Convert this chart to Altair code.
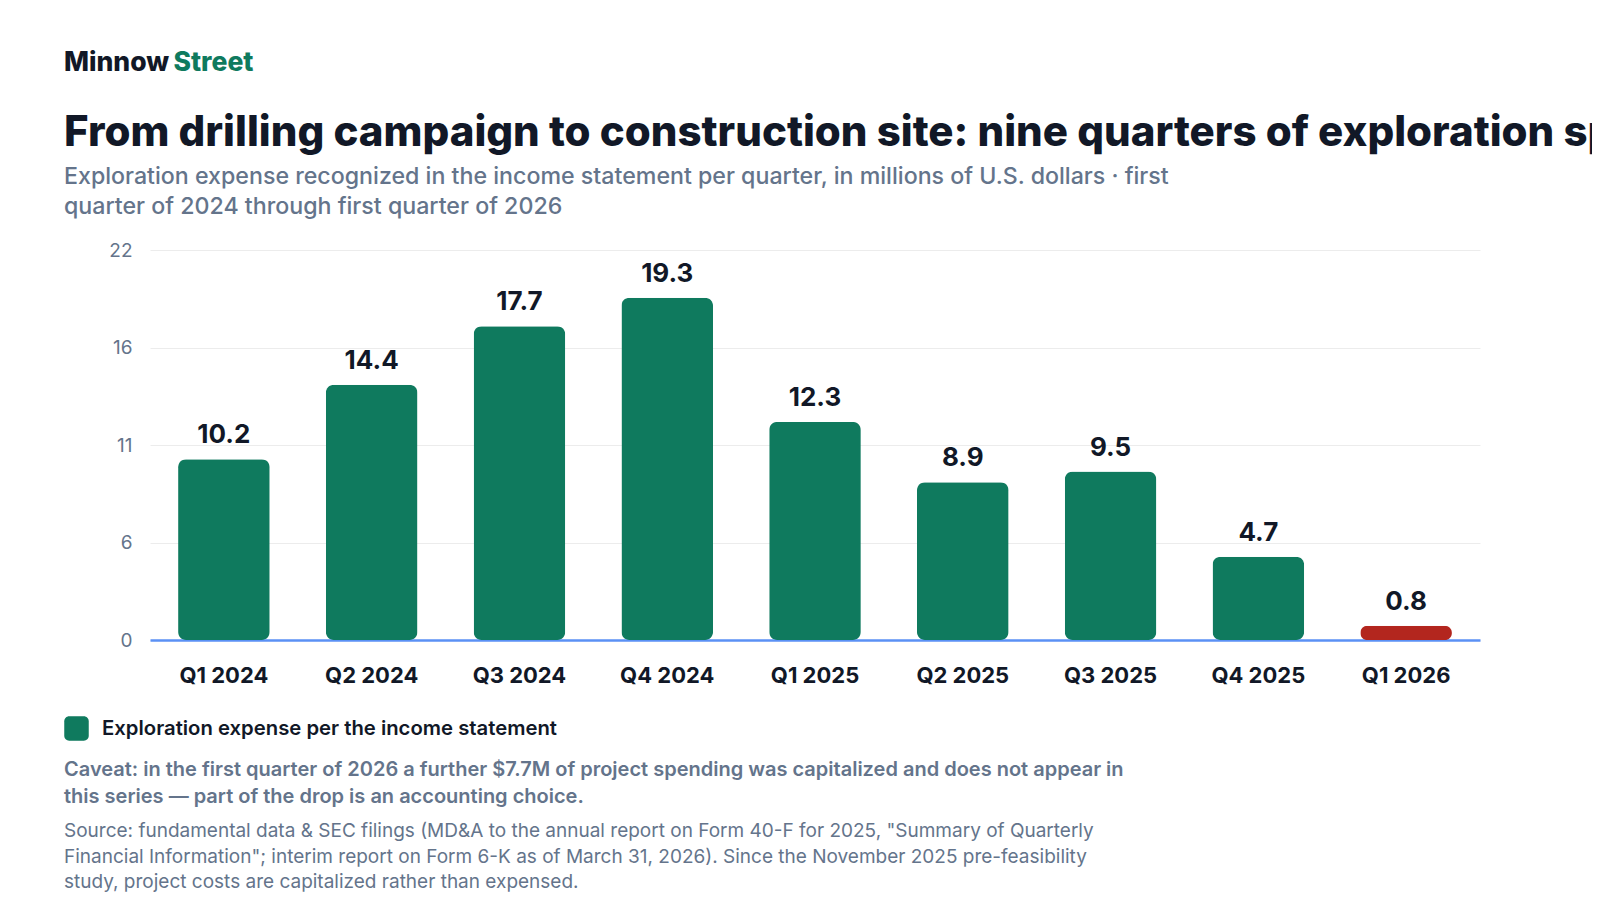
import altair as alt
import pandas as pd

quarters = ["Q1 2024", "Q2 2024", "Q3 2024", "Q4 2024", "Q1 2025",
            "Q2 2025", "Q3 2025", "Q4 2025", "Q1 2026"]
values = [10.2, 14.4, 17.7, 19.3, 12.3, 8.9, 9.5, 4.7, 0.8]
highlight = [False, False, False, False, False, False, False, False, True]
series_name = "Exploration expense per the income statement"
y_ticks = [0, 5.5, 11, 16.5, 22]
y_tick_labels = ["0", "6", "11", "16", "22"]

brand = ["Minnow", "Street"]
title_text = "From drilling campaign to construction site: nine quarters of exploration spending"
subtitle_lines = [
    "Exploration expense recognized in the income statement per quarter, in millions of U.S. dollars \u00b7 first",
    "quarter of 2024 through first quarter of 2026",
]
caveat_lines = [
    "Caveat: in the first quarter of 2026 a further $7.7M of project spending was capitalized and does not appear in",
    "this series \u2014 part of the drop is an accounting choice.",
]
source_lines = [
    'Source: fundamental data & SEC filings (MD&A to the annual report on Form 40-F for 2025, "Summary of Quarterly',
    'Financial Information"; interim report on Form 6-K as of March 31, 2026). Since the November 2025 pre-feasibility',
    "study, project costs are capitalized rather than expensed.",
]

GREEN = "#0f7a5e"
RED = "#b3261e"
DARK = "#111827"
GRAY = "#64748b"
BLUE = "#5b91f5"
FONT = "Inter"

df = pd.DataFrame({
    "quarter": quarters,
    "value": values,
    "highlight": highlight,
    "series": series_name,
    "label": [f"{v:.1f}" for v in values],
})

label_expr = " : ".join(
    f"datum.value == {v} ? '{l}'" for v, l in zip(y_ticks, y_tick_labels)
) + " : ''"

rounded_square = ("M-1,-0.6 A0.4,0.4 0 0 1 -0.6,-1 L0.6,-1 A0.4,0.4 0 0 1 1,-0.6 "
                  "L1,0.6 A0.4,0.4 0 0 1 0.6,1 L-0.6,1 A0.4,0.4 0 0 1 -1,0.6 Z")

x_enc = alt.X(
    "quarter:N", sort=quarters,
    scale=alt.Scale(paddingInner=0.38, paddingOuter=0.19),
    axis=alt.Axis(title=None, labelAngle=0, labelFont=FONT, labelFontSize=22,
                  labelFontWeight=700, labelColor=DARK, labelPadding=25,
                  ticks=False, domainColor=BLUE, domainWidth=2.6, grid=False),
)
y_enc = alt.Y(
    "value:Q",
    scale=alt.Scale(domain=[0, 22], nice=False),
    axis=alt.Axis(title=None, values=y_ticks, labelExpr=label_expr, domain=False,
                  ticks=False, gridColor="#ececec", gridWidth=1, labelFont=FONT,
                  labelFontSize=19, labelColor=GRAY, labelPadding=18),
)

base = alt.Chart(df)
bars = base.mark_bar(cornerRadius=8).encode(
    x=x_enc,
    y=y_enc,
    color=alt.condition(
        "datum.highlight",
        alt.value(RED),
        alt.Color("series:N", scale=alt.Scale(range=[GREEN]),
                  legend=alt.Legend(title=None, orient="none", legendX=-86, legendY=466,
                                    symbolType=rounded_square, symbolSize=600,
                                    symbolStrokeWidth=0, symbolOpacity=1,
                                    labelFont=FONT, labelFontSize=20.3, labelFontWeight=600,
                                    labelColor=DARK, labelOffset=13, padding=0,
                                    labelLimit=1000)),
    ),
)
labels = base.mark_text(dy=-16, baseline="alphabetic", fontSize=26, fontWeight=700,
                        color=DARK, font=FONT).encode(
    x=alt.X("quarter:N", sort=quarters),
    y=alt.Y("value:Q"),
    text="label:N",
)


def txt(lines, x, y, size, weight, color, lh=None):
    kw = dict(text=lines, align="left", baseline="alphabetic", font=FONT,
              fontSize=size, fontWeight=weight, color=color)
    if lh is not None:
        kw["lineHeight"] = lh
    return alt.Chart(pd.DataFrame({"a": [0]})).mark_text(**kw).encode(
        x=alt.value(x), y=alt.value(y))


texts = [
    txt(brand[0], -86, -179.5, 26.5, 800, DARK),
    txt(brand[1], 23.5, -179.5, 26.5, 800, GREEN),
    txt(title_text, -86, -104, 42, 800, DARK),
    txt(subtitle_lines, -86, -66, 23.2, 500, GRAY, 29.6),
    txt(caveat_lines, -86, 525.5, 20, 600, GRAY, 27.6),
    txt(source_lines, -86, 587, 19, 400, GRAY, 25.5),
]

chart = alt.layer(bars, labels, *texts).properties(
    width=1330, height=390,
    padding={"left": 142, "top": 242, "right": 112, "bottom": 252},
    autosize="none",
).configure_view(stroke=None)

chart.save("out.html", embed_options={"renderer": "svg", "actions": False})
